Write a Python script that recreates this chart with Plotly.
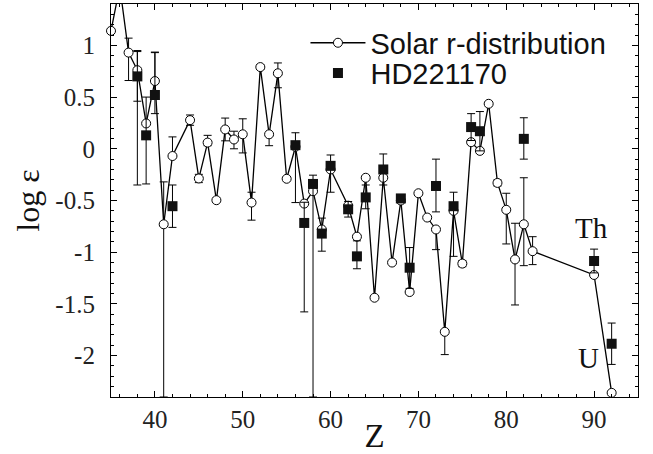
import plotly.graph_objects as go

# Solar r-process distribution
solar_z = [35, 36, 37, 38, 39, 40, 41, 42, 44, 45, 46, 47, 48, 49, 50, 51, 52, 53, 54, 55,
           56, 57, 58, 59, 60, 62, 63, 64, 65, 66, 67, 68, 69, 70, 71, 72, 73, 74, 75, 76,
           77, 78, 79, 80, 81, 82, 83, 90, 92]
solar_v = [1.14, 1.57, 0.93, 0.76, 0.245, 0.655, -0.73, -0.07, 0.277, -0.287, 0.06, -0.497, 0.187, 0.09, 0.14, -0.52, 0.79, 0.14, 0.73, -0.29,
           0.02, -0.53, -0.41, -0.78, -0.20, -0.55, -0.85, -0.28, -1.44, -0.28, -1.10, -0.50, -1.385, -0.43, -0.665, -0.78, -1.77, -0.60, -1.11, 0.064,
           -0.02, 0.435, -0.33, -0.59, -1.07, -0.73, -0.99, -1.22, -2.36]
solar_ep = [0, 0, 0.14, 0.18, 0, 0.28, 0.41, 0.185, 0.05, 0.04, 0.07, 0, 0.11, 0.08, 0.15, 0.10, 0.02, 0, 0.10, 0,
            0, 0, 0, 0, 0, 0, 0, 0, 0, 0, 0, 0, 0, 0, 0, 0, 0, 0, 0.03, 0,
            0, 0, 0.03, 0.16, 0.35, 0.45, 0.14, 0, 0]
solar_em = [0, 0, 0.27, 0.30, 0, 0.12, 1.67, 0, 0.05, 0.04, 0.03, 0, 0.11, 0.09, 0.18, 0.17, 0.02, 0.11, 0.14, 0,
            0, 0, 0, 0, 0, 0, 0, 0, 0, 0, 0, 0, 0, 0, 0, 0.195, 0.22, 0, 0.03, 0,
            0, 0, 0.03, 0.33, 0.44, 0.40, 0.13, 0, 0]

# HD221170
star_z = [38, 39, 40, 42, 56, 57, 58, 59, 60, 62, 63, 64, 66, 68, 69, 72, 74, 76, 77, 82, 90, 92]
star_v = [0.70, 0.13, 0.52, -0.555, 0.035, -0.717, -0.34, -0.82, -0.165, -0.585, -1.04, -0.47, -0.20, -0.48, -1.15, -0.36, -0.555, 0.21, 0.17, 0.096, -1.085, -1.885]
star_ep = [0.25, 0.37, 0.41, 0.205, 0.12, 0.20, 0.085, 0.15, 0.105, 0.075, 0.15, 0.12, 0.15, 0.02, 0.195, 0.26, 0.135, 0.13, 0.19, 0.204, 0.115, 0.20]
star_em = [1.05, 0.47, 0.18, 0.205, 0.555, 0.86, 2.06, 0.17, 0.255, 0.075, 0.12, 0.11, 0.15, 0.02, 0.20, 0.25, 0.485, 0.13, 0.19, 0.196, 0.115, 0.20]

y_ticks = [1, 0.5, 0, -0.5, -1, -1.5, -2]
y_ticktext = ["1", "0.5", "0", "-0.5", "-1", "-1.5", "-2"]

fig = go.Figure()
fig.add_trace(go.Scatter(
    x=solar_z, y=solar_v, mode="lines+markers", name="Solar r-distribution",
    line=dict(color="black", width=1.3),
    marker=dict(symbol="circle", size=9, color="white", line=dict(color="black", width=1)),
    error_y=dict(type="data", symmetric=False, array=solar_ep, arrayminus=solar_em,
                 color="black", thickness=1, width=4),
    cliponaxis=False, legend="legend",
))
fig.add_trace(go.Scatter(
    x=star_z, y=star_v, mode="markers", name="HD221170",
    marker=dict(symbol="square", size=10, color="#111111", line=dict(width=0)),
    error_y=dict(type="data", symmetric=False, array=star_ep, arrayminus=star_em,
                 color="black", thickness=1, width=4),
    cliponaxis=False, legend="legend2",
))

serif = "Liberation Serif"
fig.add_annotation(x=89.7, y=-0.77, xref="x", yref="y", text="Th", showarrow=False,
                   font=dict(family=serif, size=29, color="#111"))
fig.add_annotation(x=89.4, y=-2.02, xref="x", yref="y", text="U", showarrow=False,
                   font=dict(family=serif, size=29, color="#111"))

axis_common = dict(showline=True, linecolor="black", linewidth=1.2, mirror="allticks",
                   ticks="inside", ticklen=6, tickwidth=1, tickcolor="black",
                   showgrid=False, zeroline=False, automargin=False,
                   tickfont=dict(family=serif, size=25, color="#222"))

fig.update_xaxes(range=[35, 95], tick0=0, dtick=10,
                 minor=dict(dtick=2, tick0=0, ticks="inside", ticklen=3, tickcolor="black"),
                 ticklabelstandoff=0,
                 title=dict(text="Z", font=dict(family=serif, size=33, color="#111"), standoff=0),
                 **axis_common)
fig.update_yaxes(range=[-2.4, 1.4], tickvals=y_ticks, ticktext=y_ticktext,
                 minor=dict(dtick=0.1, tick0=0, ticks="inside", ticklen=3, tickcolor="black"),
                 ticklabelstandoff=10,
                 title=dict(text="log ε", font=dict(family=serif, size=32, color="#111"), standoff=6),
                 **axis_common)

leg_common = dict(xanchor="left", yanchor="middle", bgcolor="rgba(0,0,0,0)", borderwidth=0,
                  itemwidth=55, font=dict(family="Liberation Sans", size=29, color="#111"),
                  itemsizing="trace")
fig.update_layout(
    width=653, height=454,
    margin=dict(l=111, r=15, t=4, b=57, autoexpand=False),
    paper_bgcolor="white", plot_bgcolor="white",
    showlegend=True,
    legend=dict(x=0.369, y=0.901, **leg_common),
    legend2=dict(x=0.369, y=0.824, **leg_common),
)

fig.write_html("out.html")
